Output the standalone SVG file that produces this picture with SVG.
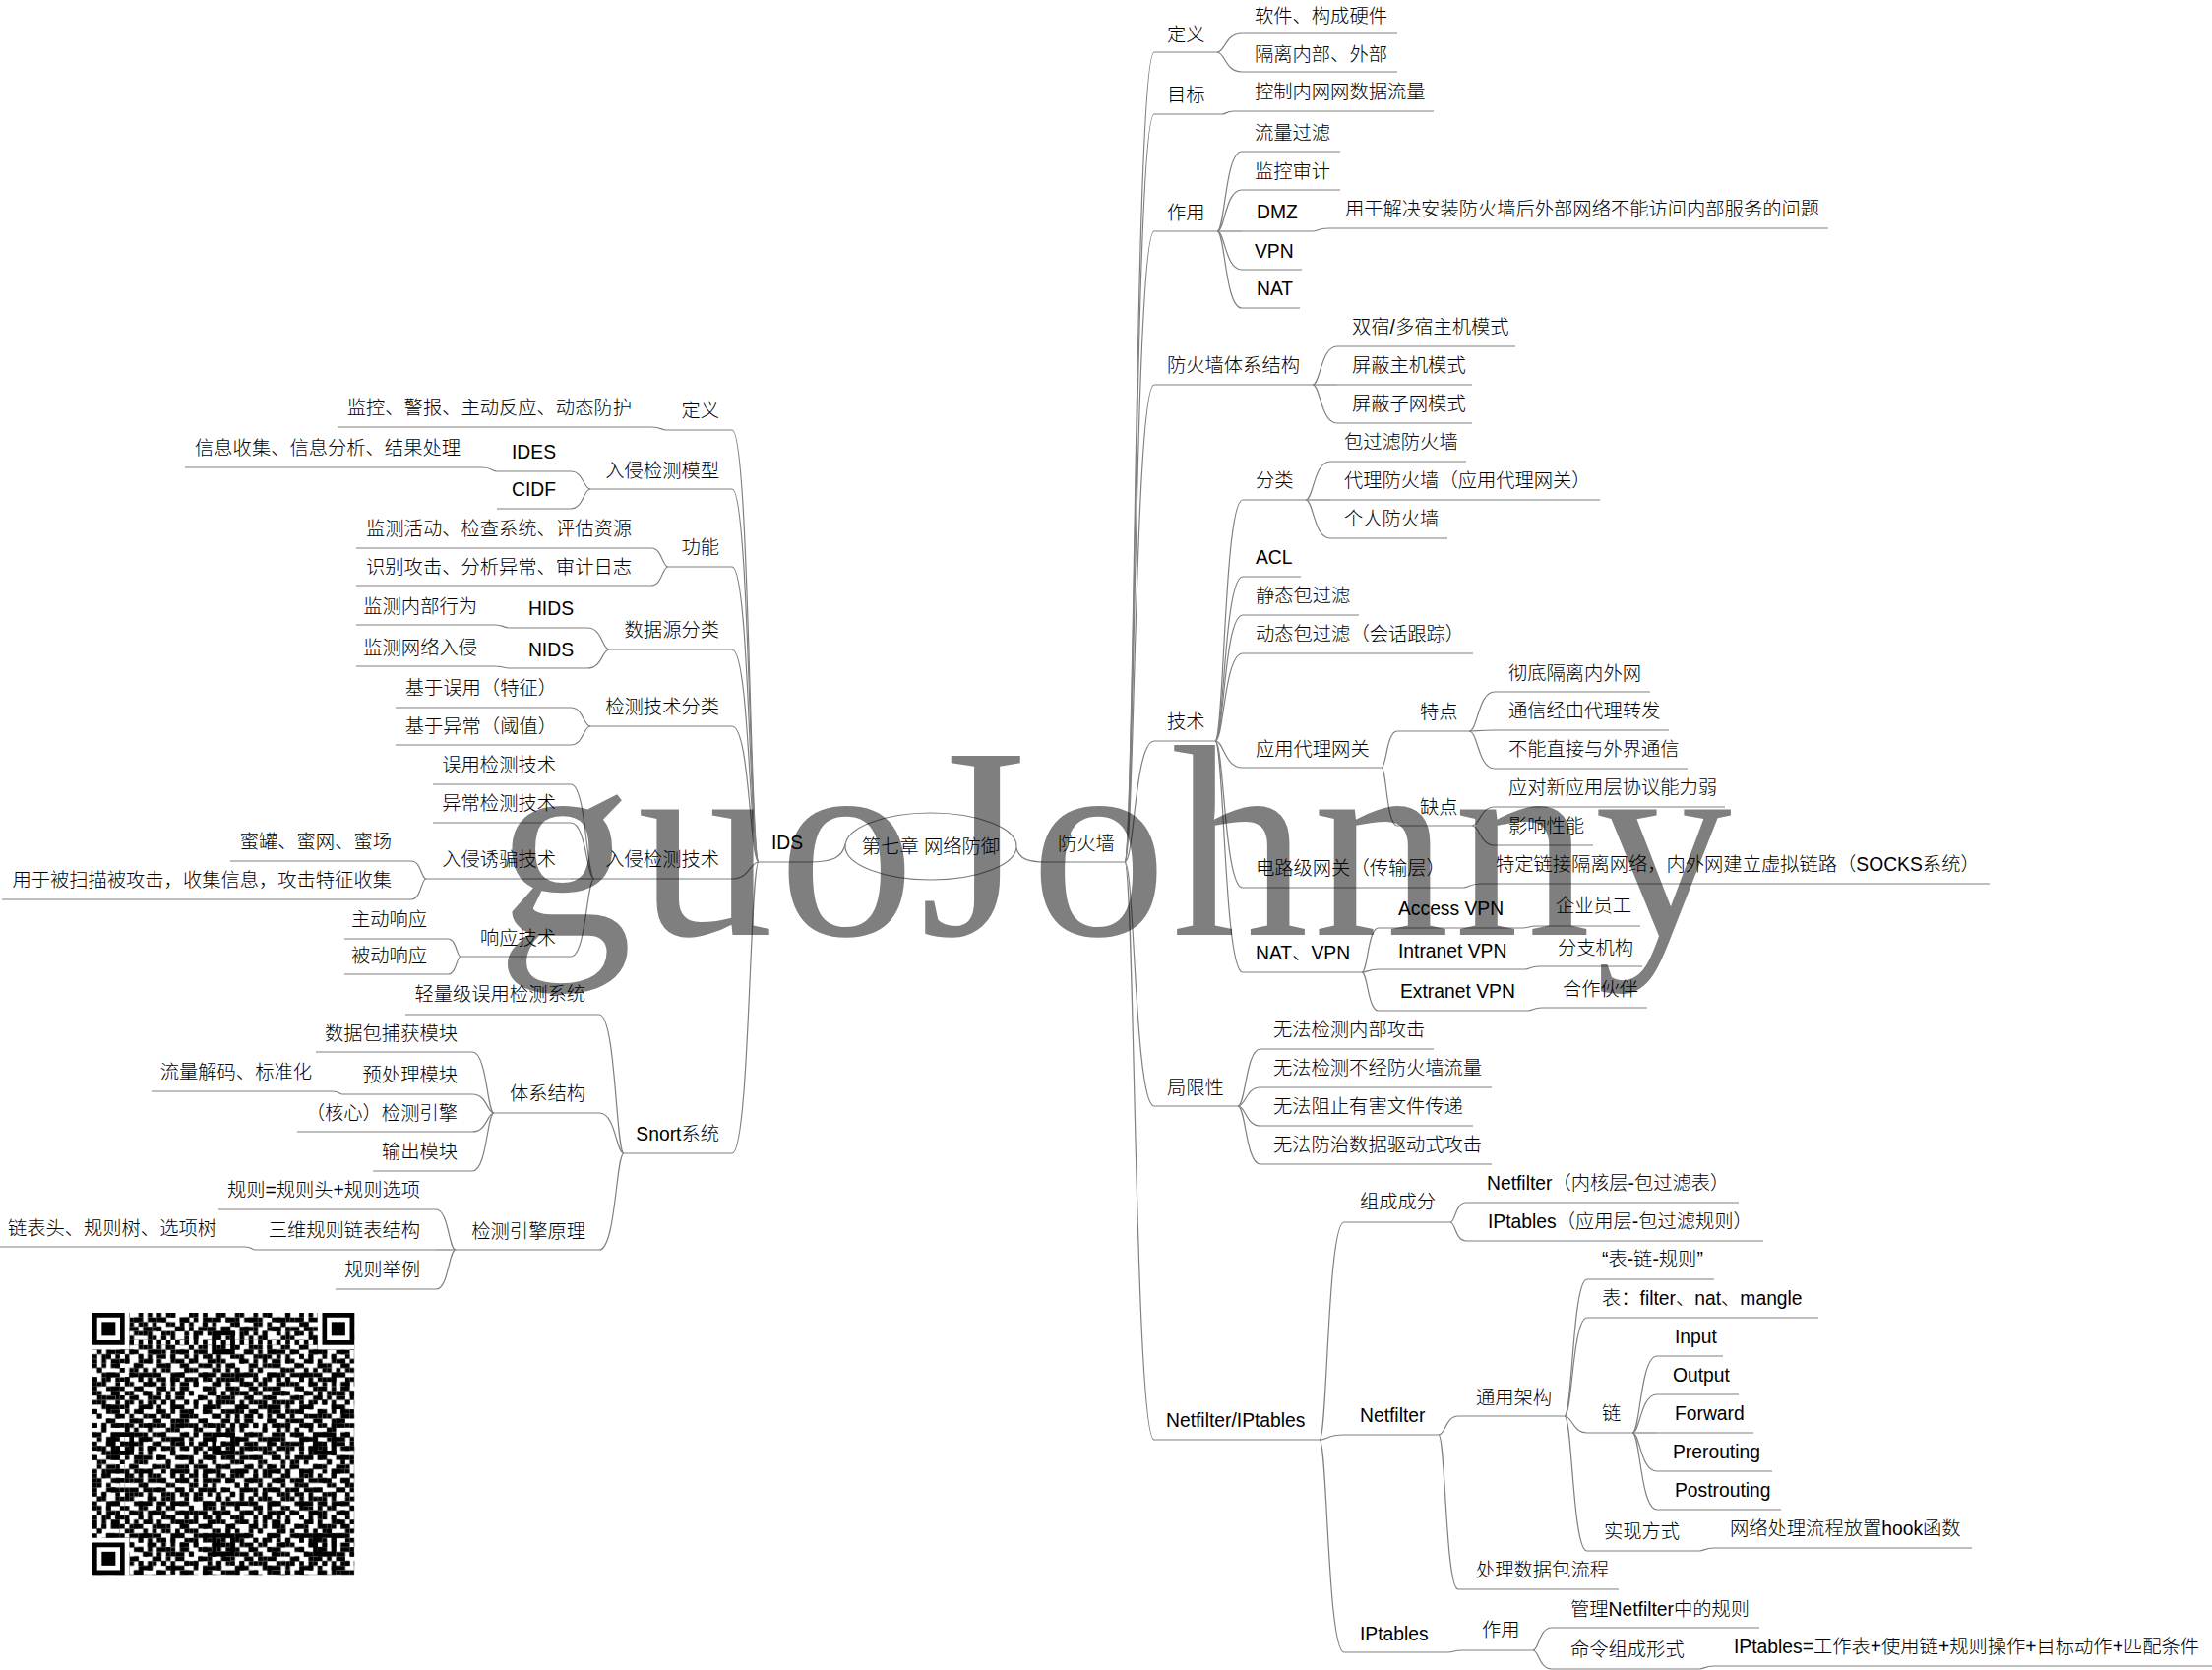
<svg xmlns="http://www.w3.org/2000/svg" width="2248" height="1697" viewBox="0 0 2248 1697">
<style>
text{font-family:"Liberation Sans","Noto Sans CJK SC",sans-serif;font-size:19.3px;font-weight:300;fill:#000}
.e{text-anchor:end}
.ln{stroke:#808080;stroke-width:1.2;fill:none}
#connectors path{stroke:#808080;stroke-width:1.2;fill:none}
.wm{font-family:"Liberation Serif",serif;font-size:278px;font-weight:400;fill:#000;fill-opacity:0.5}
</style>
<defs>
<pattern id="qa" patternUnits="userSpaceOnUse" x="94" y="1334" width="32.69" height="32.69"><path fill="#000" d="M0 0h4.72v4.72h-4.72zM14.01 0h4.72v4.72h-4.72zM4.67 4.67h4.72v4.72h-4.72zM23.35 4.67h4.72v4.72h-4.72zM28.02 4.67h4.72v4.72h-4.72zM14.01 9.34h4.72v4.72h-4.72zM0 14.01h4.72v4.72h-4.72zM18.68 14.01h4.72v4.72h-4.72zM23.35 14.01h4.72v4.72h-4.72zM9.34 18.68h4.72v4.72h-4.72zM4.67 23.35h4.72v4.72h-4.72zM28.02 23.35h4.72v4.72h-4.72zM14.01 28.02h4.72v4.72h-4.72zM18.68 28.02h4.72v4.72h-4.72zM23.35 28.02h4.72v4.72h-4.72z"/></pattern>
<pattern id="qb" patternUnits="userSpaceOnUse" x="94" y="1334" width="23.35" height="23.35"><path fill="#000" d="M9.34 0h4.72v4.72h-4.72zM0 4.67h4.72v4.72h-4.72zM18.68 4.67h4.72v4.72h-4.72zM4.67 9.34h4.72v4.72h-4.72zM14.01 14.01h4.72v4.72h-4.72zM18.68 14.01h4.72v4.72h-4.72zM0 18.68h4.72v4.72h-4.72zM9.34 18.68h4.72v4.72h-4.72z"/></pattern>
<pattern id="qc" patternUnits="userSpaceOnUse" x="94" y="1334" width="51.37" height="51.37"><path fill="#000" d="M23.35 0h4.72v4.72h-4.72zM42.03 4.67h4.72v4.72h-4.72zM9.34 9.34h4.72v4.72h-4.72zM37.36 9.34h4.72v4.72h-4.72zM32.69 14.01h4.72v4.72h-4.72zM0 18.68h4.72v4.72h-4.72zM18.68 23.35h4.72v4.72h-4.72zM37.36 28.02h4.72v4.72h-4.72zM4.67 32.69h4.72v4.72h-4.72zM23.35 32.69h4.72v4.72h-4.72zM28.02 37.36h4.72v4.72h-4.72zM14.01 42.03h4.72v4.72h-4.72zM46.7 46.7h4.72v4.72h-4.72z"/></pattern>
</defs>
<rect x="0" y="0" width="2248" height="1697" fill="#fff"/>

<g id="connectors">
<path d="M859 858C856 872 845 876 822 876"/>
<path d="M1033 862C1036 873 1045 876 1063 876"/>
<path d="M1143 876C1153 876 1153 53 1173 53"/>
<path d="M1143 876C1153 876 1153 116 1173 116"/>
<path d="M1143 876C1153 876 1153 235 1173 235"/>
<path d="M1143 876C1153 876 1153 391 1173 391"/>
<path d="M1143 876C1153 876 1153 753 1173 753"/>
<path d="M1143 876C1153 876 1153 1124 1173 1124"/>
<path d="M1143 876C1153 876 1153 1463 1173 1463"/>
<path d="M1237 53C1245 53 1245 34 1262 34"/>
<path d="M1237 53C1245 53 1245 73 1262 73"/>
<path d="M1242 116C1246 116 1246 113 1254 113"/>
<path d="M1237 235C1245 235 1245 154 1262 154"/>
<path d="M1237 235C1245 235 1245 193 1262 193"/>
<path d="M1237 235C1245 235 1245 235 1262 235"/>
<path d="M1237 235C1245 235 1245 274 1262 274"/>
<path d="M1237 235C1245 235 1245 313 1262 313"/>
<path d="M1334 235C1339 235 1339 232 1350 232"/>
<path d="M1334 391C1342 391 1342 352 1359 352"/>
<path d="M1334 391C1342 391 1342 391 1359 391"/>
<path d="M1334 391C1342 391 1342 430 1359 430"/>
<path d="M1235 753C1244 753 1244 508 1263 508"/>
<path d="M1235 753C1244 753 1244 586 1263 586"/>
<path d="M1235 753C1244 753 1244 625 1263 625"/>
<path d="M1235 753C1244 753 1244 664 1263 664"/>
<path d="M1235 753C1244 753 1244 780 1263 780"/>
<path d="M1235 753C1244 753 1244 902 1263 902"/>
<path d="M1235 753C1244 753 1244 988 1263 988"/>
<path d="M1327 508C1335 508 1335 469 1352 469"/>
<path d="M1327 508C1335 508 1335 508 1352 508"/>
<path d="M1327 508C1335 508 1335 547 1352 547"/>
<path d="M1404 780C1409 780 1409 743 1420 743"/>
<path d="M1404 780C1409 780 1409 839 1420 839"/>
<path d="M1493 743C1502 743 1502 703 1519 703"/>
<path d="M1493 743C1502 743 1502 742 1519 742"/>
<path d="M1493 743C1502 743 1502 781 1519 781"/>
<path d="M1496 839C1504 839 1504 820 1519 820"/>
<path d="M1496 839C1504 839 1504 859 1519 859"/>
<path d="M1487 902C1493 902 1493 898 1505 898"/>
<path d="M1384 988C1390 988 1390 943 1401 943"/>
<path d="M1384 988C1390 988 1390 985 1401 985"/>
<path d="M1384 988C1390 988 1390 1027 1401 1027"/>
<path d="M1548 943C1553 943 1553 941 1562 941"/>
<path d="M1550 985C1555 985 1555 982 1564 982"/>
<path d="M1553 1027C1558 1027 1558 1024 1567 1024"/>
<path d="M1258 1124C1266 1124 1266 1066 1281 1066"/>
<path d="M1258 1124C1266 1124 1266 1105 1281 1105"/>
<path d="M1258 1124C1266 1124 1266 1144 1281 1144"/>
<path d="M1258 1124C1266 1124 1266 1183 1281 1183"/>
<path d="M1341 1463C1349 1463 1349 1242 1366 1242"/>
<path d="M1341 1463C1349 1463 1349 1458 1366 1458"/>
<path d="M1341 1463C1349 1463 1349 1679 1366 1679"/>
<path d="M1474 1242C1479 1242 1479 1222 1490 1222"/>
<path d="M1474 1242C1479 1242 1479 1261 1490 1261"/>
<path d="M1462 1458C1469 1458 1469 1439 1482 1439"/>
<path d="M1462 1458C1469 1458 1469 1615 1482 1615"/>
<path d="M1590 1439C1598 1439 1598 1300 1613 1300"/>
<path d="M1590 1439C1598 1439 1598 1339 1613 1339"/>
<path d="M1590 1439C1598 1439 1598 1456 1613 1456"/>
<path d="M1590 1439C1598 1439 1598 1576 1613 1576"/>
<path d="M1659 1456C1667 1456 1667 1378 1684 1378"/>
<path d="M1659 1456C1667 1456 1667 1417 1684 1417"/>
<path d="M1659 1456C1667 1456 1667 1456 1684 1456"/>
<path d="M1659 1456C1667 1456 1667 1495 1684 1495"/>
<path d="M1659 1456C1667 1456 1667 1534 1684 1534"/>
<path d="M1727 1576C1732 1576 1732 1573 1742 1573"/>
<path d="M1472 1679C1477 1679 1477 1677 1486 1677"/>
<path d="M1558 1677C1564 1677 1564 1654 1577 1654"/>
<path d="M1558 1677C1564 1677 1564 1696 1577 1696"/>
<path d="M1727 1696C1732 1696 1732 1693 1742 1693"/>
<path d="M771 876C762 876 762 437 744 437"/>
<path d="M771 876C762 876 762 497 744 497"/>
<path d="M771 876C762 876 762 576 744 576"/>
<path d="M771 876C762 876 762 660 744 660"/>
<path d="M771 876C762 876 762 738 744 738"/>
<path d="M771 876C762 876 762 893 744 893"/>
<path d="M771 876C762 876 762 1172 744 1172"/>
<path d="M677 437C672 437 672 434 662 434"/>
<path d="M600 497C593 497 593 479 580 479"/>
<path d="M600 497C593 497 593 517 580 517"/>
<path d="M505 479C500 479 500 475 490 475"/>
<path d="M679 576C673 576 673 557 662 557"/>
<path d="M679 576C673 576 673 595 662 595"/>
<path d="M619 660C612 660 612 638 597 638"/>
<path d="M619 660C612 660 612 679 597 679"/>
<path d="M517 638C512 638 512 635 502 635"/>
<path d="M517 679C512 679 512 677 502 677"/>
<path d="M600 738C593 738 593 719 580 719"/>
<path d="M600 738C593 738 593 757 580 757"/>
<path d="M604 893C596 893 596 797 580 797"/>
<path d="M604 893C596 893 596 836 580 836"/>
<path d="M604 893C596 893 596 893 580 893"/>
<path d="M604 893C596 893 596 972 580 972"/>
<path d="M433 893C428 893 428 875 418 875"/>
<path d="M433 893C428 893 428 914 418 914"/>
<path d="M468 972C464 972 464 954 455 954"/>
<path d="M468 972C464 972 464 990 455 990"/>
<path d="M634 1172C626 1172 626 1031 609 1031"/>
<path d="M634 1172C626 1172 626 1131 609 1131"/>
<path d="M634 1172C626 1172 626 1270 609 1270"/>
<path d="M502 1131C495 1131 495 1069 480 1069"/>
<path d="M502 1131C495 1131 495 1112 480 1112"/>
<path d="M502 1131C495 1131 495 1150 480 1150"/>
<path d="M502 1131C495 1131 495 1190 480 1190"/>
<path d="M348 1112C345 1112 345 1109 338 1109"/>
<path d="M463 1270C456 1270 456 1229 443 1229"/>
<path d="M463 1270C456 1270 456 1270 443 1270"/>
<path d="M463 1270C456 1270 456 1310 443 1310"/>
<path d="M259 1270C256 1270 256 1267 249 1267"/>
</g>

<g id="root"><ellipse class="ln" cx="946" cy="860" rx="87" ry="34"/><text x="946" y="867" text-anchor="middle">第七章 网络防御</text></g>

<g id="fw"><text x="1075" y="864">防火墙</text><line class="ln" x1="1063" y1="876" x2="1143" y2="876"/></g>
<g id="fw-def"><text x="1186" y="42">定义</text><line class="ln" x1="1173" y1="53" x2="1237" y2="53"/></g>
<g id="fw-def-1"><text x="1275" y="23">软件、构成硬件</text><line class="ln" x1="1262" y1="34" x2="1420" y2="34"/></g>
<g id="fw-def-2"><text x="1275" y="62">隔离内部、外部</text><line class="ln" x1="1262" y1="73" x2="1420" y2="73"/></g>
<g id="fw-goal"><text x="1186" y="103">目标</text><line class="ln" x1="1173" y1="116" x2="1242" y2="116"/></g>
<g id="fw-goal-1"><text x="1275" y="100">控制内网网数据流量</text><line class="ln" x1="1254" y1="113" x2="1457" y2="113"/></g>
<g id="fw-use"><text x="1186" y="223">作用</text><line class="ln" x1="1173" y1="235" x2="1237" y2="235"/></g>
<g id="fw-use-1"><text x="1275" y="142">流量过滤</text><line class="ln" x1="1262" y1="154" x2="1362" y2="154"/></g>
<g id="fw-use-2"><text x="1275" y="181">监控审计</text><line class="ln" x1="1262" y1="193" x2="1362" y2="193"/></g>
<g id="fw-use-3"><text x="1277" y="222">DMZ</text><line class="ln" x1="1262" y1="235" x2="1334" y2="235"/></g>
<g id="fw-use-3-1"><text x="1367" y="219">用于解决安装防火墙后外部网络不能访问内部服务的问题</text><line class="ln" x1="1350" y1="232" x2="1858" y2="232"/></g>
<g id="fw-use-4"><text x="1275" y="262">VPN</text><line class="ln" x1="1262" y1="274" x2="1323" y2="274"/></g>
<g id="fw-use-5"><text x="1277" y="300">NAT</text><line class="ln" x1="1262" y1="313" x2="1321" y2="313"/></g>
<g id="fw-arch"><text x="1186" y="378">防火墙体系结构</text><line class="ln" x1="1173" y1="391" x2="1334" y2="391"/></g>
<g id="fw-arch-1"><text x="1374" y="339">双宿/多宿主机模式</text><line class="ln" x1="1359" y1="352" x2="1540" y2="352"/></g>
<g id="fw-arch-2"><text x="1374" y="378">屏蔽主机模式</text><line class="ln" x1="1359" y1="391" x2="1496" y2="391"/></g>
<g id="fw-arch-3"><text x="1374" y="417">屏蔽子网模式</text><line class="ln" x1="1359" y1="430" x2="1496" y2="430"/></g>
<g id="fw-tech"><text x="1186" y="740">技术</text><line class="ln" x1="1173" y1="753" x2="1235" y2="753"/></g>
<g id="fw-tech-cls"><text x="1276" y="495">分类</text><line class="ln" x1="1263" y1="508" x2="1327" y2="508"/></g>
<g id="fw-tech-cls-1"><text x="1366" y="456">包过滤防火墙</text><line class="ln" x1="1352" y1="469" x2="1490" y2="469"/></g>
<g id="fw-tech-cls-2"><text x="1366" y="495">代理防火墙（应用代理网关）</text><line class="ln" x1="1352" y1="508" x2="1626" y2="508"/></g>
<g id="fw-tech-cls-3"><text x="1366" y="534">个人防火墙</text><line class="ln" x1="1352" y1="547" x2="1471" y2="547"/></g>
<g id="fw-tech-acl"><text x="1276" y="573">ACL</text><line class="ln" x1="1263" y1="586" x2="1322" y2="586"/></g>
<g id="fw-tech-static"><text x="1276" y="612">静态包过滤</text><line class="ln" x1="1263" y1="625" x2="1381" y2="625"/></g>
<g id="fw-tech-dyn"><text x="1276" y="651">动态包过滤（会话跟踪）</text><line class="ln" x1="1263" y1="664" x2="1497" y2="664"/></g>
<g id="fw-tech-app"><text x="1276" y="768">应用代理网关</text><line class="ln" x1="1263" y1="780" x2="1404" y2="780"/></g>
<g id="fw-tech-app-pro"><text x="1443" y="730">特点</text><line class="ln" x1="1420" y1="743" x2="1493" y2="743"/></g>
<g id="fw-tech-app-pro-1"><text x="1533" y="691">彻底隔离内外网</text><line class="ln" x1="1519" y1="703" x2="1677" y2="703"/></g>
<g id="fw-tech-app-pro-2"><text x="1533" y="729">通信经由代理转发</text><line class="ln" x1="1519" y1="742" x2="1696" y2="742"/></g>
<g id="fw-tech-app-pro-3"><text x="1533" y="768">不能直接与外界通信</text><line class="ln" x1="1519" y1="781" x2="1715" y2="781"/></g>
<g id="fw-tech-app-con"><text x="1443" y="827">缺点</text><line class="ln" x1="1420" y1="839" x2="1496" y2="839"/></g>
<g id="fw-tech-app-con-1"><text x="1533" y="807">应对新应用层协议能力弱</text><line class="ln" x1="1519" y1="820" x2="1753" y2="820"/></g>
<g id="fw-tech-app-con-2"><text x="1533" y="846">影响性能</text><line class="ln" x1="1519" y1="859" x2="1619" y2="859"/></g>
<g id="fw-tech-circ"><text x="1276" y="889">电路级网关（传输层）</text><line class="ln" x1="1263" y1="902" x2="1487" y2="902"/></g>
<g id="fw-tech-circ-1"><text x="1520" y="885">特定链接隔离网络，内外网建立虚拟链路（SOCKS系统）</text><line class="ln" x1="1505" y1="898" x2="2022" y2="898"/></g>
<g id="fw-tech-nat"><text x="1276" y="975">NAT、VPN</text><line class="ln" x1="1263" y1="988" x2="1384" y2="988"/></g>
<g id="fw-tech-nat-1"><text x="1421" y="930">Access VPN</text><line class="ln" x1="1401" y1="943" x2="1548" y2="943"/></g>
<g id="fw-tech-nat-1-1"><text x="1581" y="927">企业员工</text><line class="ln" x1="1562" y1="941" x2="1667" y2="941"/></g>
<g id="fw-tech-nat-2"><text x="1421" y="973">Intranet VPN</text><line class="ln" x1="1401" y1="985" x2="1550" y2="985"/></g>
<g id="fw-tech-nat-2-1"><text x="1583" y="970">分支机构</text><line class="ln" x1="1564" y1="982" x2="1669" y2="982"/></g>
<g id="fw-tech-nat-3"><text x="1423" y="1014">Extranet VPN</text><line class="ln" x1="1401" y1="1027" x2="1553" y2="1027"/></g>
<g id="fw-tech-nat-3-1"><text x="1588" y="1012">合作伙伴</text><line class="ln" x1="1567" y1="1024" x2="1674" y2="1024"/></g>
<g id="fw-lim"><text x="1186" y="1112">局限性</text><line class="ln" x1="1173" y1="1124" x2="1258" y2="1124"/></g>
<g id="fw-lim-1"><text x="1294" y="1053">无法检测内部攻击</text><line class="ln" x1="1281" y1="1066" x2="1457" y2="1066"/></g>
<g id="fw-lim-2"><text x="1294" y="1092">无法检测不经防火墙流量</text><line class="ln" x1="1281" y1="1105" x2="1516" y2="1105"/></g>
<g id="fw-lim-3"><text x="1294" y="1131">无法阻止有害文件传递</text><line class="ln" x1="1281" y1="1144" x2="1497" y2="1144"/></g>
<g id="fw-lim-4"><text x="1294" y="1170">无法防治数据驱动式攻击</text><line class="ln" x1="1281" y1="1183" x2="1516" y2="1183"/></g>
<g id="fw-nf"><text x="1185" y="1450">Netfilter/IPtables</text><line class="ln" x1="1173" y1="1463" x2="1341" y2="1463"/></g>
<g id="fw-nf-comp"><text x="1382" y="1228">组成成分</text><line class="ln" x1="1366" y1="1242" x2="1474" y2="1242"/></g>
<g id="fw-nf-comp-1"><text x="1511" y="1209">Netfilter（内核层-包过滤表）</text><line class="ln" x1="1490" y1="1222" x2="1767" y2="1222"/></g>
<g id="fw-nf-comp-2"><text x="1512" y="1248">IPtables（应用层-包过滤规则）</text><line class="ln" x1="1490" y1="1261" x2="1792" y2="1261"/></g>
<g id="fw-nf-net"><text x="1382" y="1445">Netfilter</text><line class="ln" x1="1366" y1="1458" x2="1462" y2="1458"/></g>
<g id="fw-nf-net-arch"><text x="1500" y="1427">通用架构</text><line class="ln" x1="1482" y1="1439" x2="1590" y2="1439"/></g>
<g id="fw-nf-net-arch-1"><text x="1628" y="1286">“表-链-规则”</text><line class="ln" x1="1613" y1="1300" x2="1742" y2="1300"/></g>
<g id="fw-nf-net-arch-2"><text x="1628" y="1326">表：filter、nat、mangle</text><line class="ln" x1="1613" y1="1339" x2="1848" y2="1339"/></g>
<g id="fw-nf-net-arch-chain"><text x="1628" y="1443">链</text><line class="ln" x1="1613" y1="1456" x2="1659" y2="1456"/></g>
<g id="chain-input"><text x="1702" y="1365">Input</text><line class="ln" x1="1684" y1="1378" x2="1751" y2="1378"/></g>
<g id="chain-output"><text x="1700" y="1404">Output</text><line class="ln" x1="1684" y1="1417" x2="1767" y2="1417"/></g>
<g id="chain-forward"><text x="1702" y="1443">Forward</text><line class="ln" x1="1684" y1="1456" x2="1782" y2="1456"/></g>
<g id="chain-pre"><text x="1700" y="1482">Prerouting</text><line class="ln" x1="1684" y1="1495" x2="1801" y2="1495"/></g>
<g id="chain-post"><text x="1702" y="1521">Postrouting</text><line class="ln" x1="1684" y1="1534" x2="1810" y2="1534"/></g>
<g id="fw-nf-net-arch-impl"><text x="1630" y="1563">实现方式</text><line class="ln" x1="1613" y1="1576" x2="1727" y2="1576"/></g>
<g id="fw-nf-net-arch-impl-1"><text x="1758" y="1560">网络处理流程放置hook函数</text><line class="ln" x1="1742" y1="1573" x2="2004" y2="1573"/></g>
<g id="fw-nf-net-flow"><text x="1500" y="1602">处理数据包流程</text><line class="ln" x1="1482" y1="1615" x2="1645" y2="1615"/></g>
<g id="fw-nf-ipt"><text x="1382" y="1667">IPtables</text><line class="ln" x1="1366" y1="1679" x2="1472" y2="1679"/></g>
<g id="fw-nf-ipt-use"><text x="1506" y="1663">作用</text><line class="ln" x1="1486" y1="1677" x2="1558" y2="1677"/></g>
<g id="fw-nf-ipt-use-1"><text x="1596" y="1642">管理Netfilter中的规则</text><line class="ln" x1="1577" y1="1654" x2="1788" y2="1654"/></g>
<g id="fw-nf-ipt-use-2"><text x="1596" y="1683">命令组成形式</text><line class="ln" x1="1577" y1="1696" x2="1727" y2="1696"/></g>
<g id="fw-nf-ipt-use-2-1"><text x="1762" y="1680">IPtables=工作表+使用链+规则操作+目标动作+匹配条件</text><line class="ln" x1="1742" y1="1693" x2="2248" y2="1693"/></g>

<g id="ids"><text x="784" y="863">IDS</text><line class="ln" x1="771" y1="876" x2="822" y2="876"/></g>
<g id="ids-def"><text class="e" x="731" y="424">定义</text><line class="ln" x1="677" y1="437" x2="744" y2="437"/></g>
<g id="ids-def-1"><text class="e" x="642" y="421">监控、警报、主动反应、动态防护</text><line class="ln" x1="343" y1="434" x2="662" y2="434"/></g>
<g id="ids-model"><text class="e" x="731" y="485">入侵检测模型</text><line class="ln" x1="600" y1="497" x2="744" y2="497"/></g>
<g id="ids-model-ides"><text class="e" x="565" y="466">IDES</text><line class="ln" x1="505" y1="479" x2="580" y2="479"/></g>
<g id="ids-model-ides-1"><text class="e" x="468" y="462">信息收集、信息分析、结果处理</text><line class="ln" x1="188" y1="475" x2="490" y2="475"/></g>
<g id="ids-model-cidf"><text class="e" x="565" y="504">CIDF</text><line class="ln" x1="505" y1="517" x2="580" y2="517"/></g>
<g id="ids-func"><text class="e" x="731" y="563">功能</text><line class="ln" x1="679" y1="576" x2="744" y2="576"/></g>
<g id="ids-func-1"><text class="e" x="642" y="544">监测活动、检查系统、评估资源</text><line class="ln" x1="362" y1="557" x2="662" y2="557"/></g>
<g id="ids-func-2"><text class="e" x="642" y="583">识别攻击、分析异常、审计日志</text><line class="ln" x1="362" y1="595" x2="662" y2="595"/></g>
<g id="ids-src"><text class="e" x="731" y="647">数据源分类</text><line class="ln" x1="619" y1="660" x2="744" y2="660"/></g>
<g id="ids-src-hids"><text class="e" x="583" y="625">HIDS</text><line class="ln" x1="517" y1="638" x2="597" y2="638"/></g>
<g id="ids-src-hids-1"><text class="e" x="485" y="623">监测内部行为</text><line class="ln" x1="362" y1="635" x2="502" y2="635"/></g>
<g id="ids-src-nids"><text class="e" x="583" y="667">NIDS</text><line class="ln" x1="517" y1="679" x2="597" y2="679"/></g>
<g id="ids-src-nids-1"><text class="e" x="485" y="665">监测网络入侵</text><line class="ln" x1="362" y1="677" x2="502" y2="677"/></g>
<g id="ids-cls"><text class="e" x="731" y="725">检测技术分类</text><line class="ln" x1="600" y1="738" x2="744" y2="738"/></g>
<g id="ids-cls-1"><text class="e" x="566" y="706">基于误用（特征）</text><line class="ln" x1="402" y1="719" x2="580" y2="719"/></g>
<g id="ids-cls-2"><text class="e" x="566" y="745">基于异常（阈值）</text><line class="ln" x1="402" y1="757" x2="580" y2="757"/></g>
<g id="ids-tech"><text class="e" x="731" y="880">入侵检测技术</text><line class="ln" x1="604" y1="893" x2="744" y2="893"/></g>
<g id="ids-tech-1"><text class="e" x="565" y="784">误用检测技术</text><line class="ln" x1="440" y1="797" x2="580" y2="797"/></g>
<g id="ids-tech-2"><text class="e" x="565" y="823">异常检测技术</text><line class="ln" x1="440" y1="836" x2="580" y2="836"/></g>
<g id="ids-tech-3"><text class="e" x="565" y="880">入侵诱骗技术</text><line class="ln" x1="433" y1="893" x2="580" y2="893"/></g>
<g id="ids-tech-3-1"><text class="e" x="398" y="862">蜜罐、蜜网、蜜场</text><line class="ln" x1="234" y1="875" x2="418" y2="875"/></g>
<g id="ids-tech-3-2"><text class="e" x="398" y="901">用于被扫描被攻击，收集信息，攻击特征收集</text><line class="ln" x1="2" y1="914" x2="418" y2="914"/></g>
<g id="ids-tech-4"><text class="e" x="565" y="960">响应技术</text><line class="ln" x1="468" y1="972" x2="580" y2="972"/></g>
<g id="ids-tech-4-1"><text class="e" x="434" y="941">主动响应</text><line class="ln" x1="350" y1="954" x2="455" y2="954"/></g>
<g id="ids-tech-4-2"><text class="e" x="434" y="978">被动响应</text><line class="ln" x1="350" y1="990" x2="455" y2="990"/></g>
<g id="ids-snort"><text class="e" x="731" y="1159">Snort系统</text><line class="ln" x1="634" y1="1172" x2="744" y2="1172"/></g>
<g id="ids-snort-1"><text class="e" x="595" y="1017">轻量级误用检测系统</text><line class="ln" x1="412" y1="1031" x2="609" y2="1031"/></g>
<g id="ids-snort-arch"><text class="e" x="595" y="1118">体系结构</text><line class="ln" x1="502" y1="1131" x2="609" y2="1131"/></g>
<g id="ids-snort-arch-1"><text class="e" x="465" y="1057">数据包捕获模块</text><line class="ln" x1="321" y1="1069" x2="480" y2="1069"/></g>
<g id="ids-snort-arch-2"><text class="e" x="465" y="1099">预处理模块</text><line class="ln" x1="348" y1="1112" x2="480" y2="1112"/></g>
<g id="ids-snort-arch-2-1"><text class="e" x="317" y="1096">流量解码、标准化</text><line class="ln" x1="154" y1="1109" x2="338" y2="1109"/></g>
<g id="ids-snort-arch-3"><text class="e" x="465" y="1138">（核心）检测引擎</text><line class="ln" x1="302" y1="1150" x2="480" y2="1150"/></g>
<g id="ids-snort-arch-4"><text class="e" x="465" y="1177">输出模块</text><line class="ln" x1="379" y1="1190" x2="480" y2="1190"/></g>
<g id="ids-snort-eng"><text class="e" x="595" y="1258">检测引擎原理</text><line class="ln" x1="463" y1="1270" x2="609" y2="1270"/></g>
<g id="ids-snort-eng-1"><text class="e" x="427" y="1216">规则=规则头+规则选项</text><line class="ln" x1="222" y1="1229" x2="443" y2="1229"/></g>
<g id="ids-snort-eng-2"><text class="e" x="427" y="1257">三维规则链表结构</text><line class="ln" x1="259" y1="1270" x2="443" y2="1270"/></g>
<g id="ids-snort-eng-2-1"><text class="e" x="220" y="1255">链表头、规则树、选项树</text><line class="ln" x1="0" y1="1267" x2="249" y2="1267"/></g>
<g id="ids-snort-eng-3"><text class="e" x="427" y="1297">规则举例</text><line class="ln" x1="341" y1="1310" x2="443" y2="1310"/></g>

<g id="qrcode">
<rect x="94" y="1334" width="266.2" height="266.2" fill="url(#qa)"/>
<rect x="94" y="1334" width="266.2" height="266.2" fill="url(#qb)"/>
<rect x="94" y="1334" width="266.2" height="266.2" fill="url(#qc)"/>
<g fill="#fff">
<rect x="94" y="1334" width="37.36" height="37.36"/>
<rect x="322.84" y="1334" width="37.36" height="37.36"/>
<rect x="94" y="1562.84" width="37.36" height="37.36"/>
</g>
<line x1="131.36" y1="1364.36" x2="322.84" y2="1364.36" stroke="#fff" stroke-width="4.67"/>
<line x1="124.36" y1="1371.36" x2="124.36" y2="1562.84" stroke="#fff" stroke-width="4.67"/>
<line x1="131.36" y1="1364.36" x2="322.84" y2="1364.36" stroke="#000" stroke-width="4.67" stroke-dasharray="4.67 4.67"/>
<line x1="124.36" y1="1371.36" x2="124.36" y2="1562.84" stroke="#000" stroke-width="4.67" stroke-dasharray="4.67 4.67"/>
<g fill="#000">
<path fill-rule="evenodd" d="M94 1334h32.69v32.69h-32.69zM98.67 1338.67v23.35h23.35v-23.35z"/>
<rect x="103.34" y="1343.34" width="14.01" height="14.01"/>
<path fill-rule="evenodd" d="M327.5 1334h32.69v32.69h-32.69zM332.17 1338.67v23.35h23.35v-23.35z"/>
<rect x="336.84" y="1343.34" width="14.01" height="14.01"/>
<path fill-rule="evenodd" d="M94 1567.5h32.69v32.69h-32.69zM98.67 1572.17v23.35h23.35v-23.35z"/>
<rect x="103.34" y="1576.84" width="14.01" height="14.01"/>
</g>
<g>
<path fill="#000" fill-rule="evenodd" d="M215.42 1352.68h23.35v23.35h-23.35zM220.09 1357.35v14.01h14.01v-14.01zM224.76 1362.02h4.67v4.67h-4.67z"/>
<path fill="#000" fill-rule="evenodd" d="M112.68 1455.42h23.35v23.35h-23.35zM117.35 1460.09v14.01h14.01v-14.01zM122.02 1464.76h4.67v4.67h-4.67z"/>
<path fill="#000" fill-rule="evenodd" d="M215.42 1455.42h23.35v23.35h-23.35zM220.09 1460.09v14.01h14.01v-14.01zM224.76 1464.76h4.67v4.67h-4.67z"/>
<path fill="#000" fill-rule="evenodd" d="M318.16 1455.42h23.35v23.35h-23.35zM322.83 1460.09v14.01h14.01v-14.01zM327.5 1464.76h4.67v4.67h-4.67z"/>
<path fill="#000" fill-rule="evenodd" d="M215.42 1558.16h23.35v23.35h-23.35zM220.09 1562.83v14.01h14.01v-14.01zM224.76 1567.5h4.67v4.67h-4.67z"/>
<path fill="#000" fill-rule="evenodd" d="M318.16 1558.16h23.35v23.35h-23.35zM322.83 1562.83v14.01h14.01v-14.01zM327.5 1567.5h4.67v4.67h-4.67z"/>
</g>
</g>

<text class="wm" x="504" y="950" textLength="1256" lengthAdjust="spacing">guoJohnny</text>
</svg>
